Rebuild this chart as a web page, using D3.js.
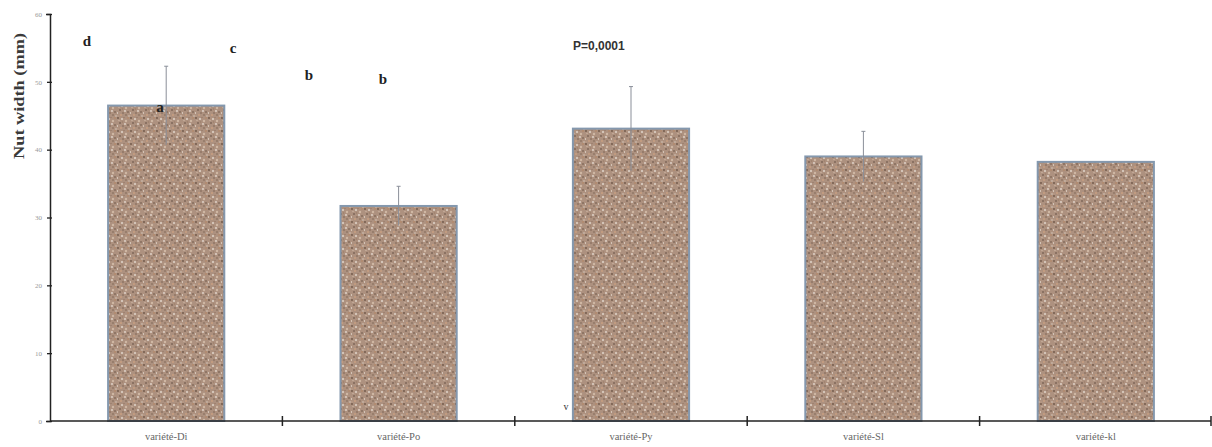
<!DOCTYPE html>
<html>
  <head>
    <meta charset="utf-8">
    <script src="https://cdn.jsdelivr.net/npm/d3@7/dist/d3.min.js"></script>
    <style>
body {
  margin: 0;
  background: #fff;
}
svg {
  display: block;
}
.axis path, .axis line {
  stroke: #222;
}
.ylab {
  font-family: "Liberation Serif", serif;
  font-weight: bold;
  font-size: 14px;
  fill: #3a3a3a;
}
.tick-y {
  font-family: "Liberation Serif", serif;
  font-size: 7px;
  fill: #999;
}
.cat {
  font-family: "Liberation Serif", serif;
  font-size: 10.5px;
  fill: #666;
}
.letter {
  font-family: "Liberation Serif", serif;
  font-weight: bold;
  font-size: 15px;
  fill: #222;
}
.pval {
  font-family: "Liberation Sans", Arial, sans-serif;
  font-weight: bold;
  font-size: 12px;
  fill: #333;
}
    </style>
  </head>
  <body>
    <div id="chart"></div>
    <script>
// values
var categories = ["variété-Di", "variété-Po", "variété-Py", "variété-Sl", "variété-kl"];
var means = [46.5, 31.7, 43.1, 39.0, 38.2];
var errors = [5.8, 2.9, 6.2, 3.7, null];
var yTicks = [0, 10, 20, 30, 40, 50, 60];
var groupLetters = ["d", "c", "b", "b", "a"];
var pLabel = "P=0,0001";

var width = 1212, height = 447;

var svg = d3.select("#chart").append("svg")
    .attr("width", width)
    .attr("height", height);

var x = d3.scaleBand()
    .domain(categories)
    .range([50, 1212])
    .paddingInner(0.5)
    .paddingOuter(0.25);

var xEdge = d3.scaleLinear()
    .domain([0, categories.length])
    .range([50, 1212]);

var y = d3.scaleLinear()
    .domain([0, 60])
    .range([421, 14]);

// speckled texture for the bars (fixed tile)
var defs = svg.append("defs");
var pat = defs.append("pattern")
    .attr("id", "speck")
    .attr("patternUnits", "userSpaceOnUse")
    .attr("width", 13)
    .attr("height", 13);
pat.append("rect").attr("width", 13).attr("height", 13).attr("fill", "#ad917f");
var specks = [
  [1, 1, "#6e5648", 0.9], [5, 2, "#ddd0c5", 1.1], [3, 6, "#5f4a3e", 0.8],
  [9, 4, "#cfb7a3", 1.2], [0, 9, "#e0d4c9", 1.0], [7, 0, "#8a7060", 0.8],
  [4, 11, "#c89f80", 1.0], [11, 8, "#5a463a", 0.7], [2, 3.5, "#c7b09d", 0.8],
  [8, 7, "#e3d8ce", 0.9], [11, 1, "#b48a6c", 0.9], [6, 9, "#7a6252", 0.8],
  [12, 12, "#d6c7ba", 0.8], [9, 11, "#8e7564", 0.9], [1, 12, "#bda089", 0.7],
  [5.5, 5, "#9c7e6a", 0.8]
];
pat.selectAll("circle").data(specks).join("circle")
    .attr("cx", function(d) { return d[0]; })
    .attr("cy", function(d) { return d[1]; })
    .attr("r", function(d) { return d[3]; })
    .attr("fill", function(d) { return d[2]; });

// bars
svg.selectAll("rect.bar").data(categories).join("rect")
    .attr("class", "bar")
    .attr("x", function(d) { return x(d); })
    .attr("y", function(d, i) { return y(means[i]); })
    .attr("width", x.bandwidth())
    .attr("height", function(d, i) { return y(0) - y(means[i]); })
    .attr("fill", "url(#speck)")
    .attr("stroke", "#8498ae")
    .attr("stroke-width", 2);

// error bars
var eb = svg.selectAll("g.err").data(categories.filter(function(d, i) { return errors[i] != null; }))
  .join("g").attr("class", "err");
eb.append("line")
    .attr("x1", function(d) { return x(d) + x.bandwidth() / 2; })
    .attr("x2", function(d) { return x(d) + x.bandwidth() / 2; })
    .attr("y1", function(d) { var i = categories.indexOf(d); return y(means[i] - errors[i]); })
    .attr("y2", function(d) { var i = categories.indexOf(d); return y(means[i] + errors[i]); })
    .attr("stroke", "#8a8f99")
    .attr("stroke-width", 1);
eb.append("line")
    .attr("x1", function(d) { return x(d) + x.bandwidth() / 2 - 2; })
    .attr("x2", function(d) { return x(d) + x.bandwidth() / 2 + 2; })
    .attr("y1", function(d) { var i = categories.indexOf(d); return y(means[i] + errors[i]); })
    .attr("y2", function(d) { var i = categories.indexOf(d); return y(means[i] + errors[i]); })
    .attr("stroke", "#8a8f99")
    .attr("stroke-width", 1);

// y axis
var yAxis = svg.append("g")
    .attr("class", "axis")
    .attr("transform", "translate(50,0)")
    .call(d3.axisLeft(y).tickValues(yTicks).tickSize(4).tickFormat(d3.format("d")));
yAxis.select(".domain").attr("stroke-width", 1.5);
yAxis.selectAll(".tick text").attr("class", "tick-y").attr("x", -8);
yAxis.selectAll(".tick line").attr("x1", 2).attr("x2", -3).attr("stroke-width", 1.3);

// x axis line with ticks between the categories
svg.append("line")
    .attr("x1", 50).attr("x2", 1211)
    .attr("y1", y(0)).attr("y2", y(0))
    .attr("stroke", "#222").attr("stroke-width", 1.5);
svg.selectAll("line.xt").data(d3.range(1, categories.length + 1)).join("line")
    .attr("class", "xt")
    .attr("x1", function(d) { return xEdge(d) - (d === categories.length ? 1 : 0); })
    .attr("x2", function(d) { return xEdge(d) - (d === categories.length ? 1 : 0); })
    .attr("y1", y(0) - 5).attr("y2", y(0) + 5)
    .attr("stroke", "#222").attr("stroke-width", 1.5);

svg.selectAll("text.cat").data(categories).join("text")
    .attr("class", "cat")
    .attr("x", function(d) { return x(d) + x.bandwidth() / 2; })
    .attr("y", 440)
    .attr("text-anchor", "middle")
    .text(function(d) { return d; });

// y title
svg.append("text")
    .attr("class", "ylab")
    .attr("transform", "translate(24,96) rotate(-90)")
    .attr("text-anchor", "middle")
    .attr("textLength", 126)
    .attr("lengthAdjust", "spacingAndGlyphs")
    .text("Nut width (mm)");

// group letters, placed as in the original figure
var letterPos = [[87, 46], [233, 53], [309, 80], [383, 84], [160, 112]];
svg.selectAll("text.letter").data(groupLetters).join("text")
    .attr("class", "letter")
    .attr("x", function(d, i) { return letterPos[i][0]; })
    .attr("y", function(d, i) { return letterPos[i][1]; })
    .attr("text-anchor", "middle")
    .text(function(d) { return d; });

svg.append("text")
    .attr("class", "pval")
    .attr("x", 573).attr("y", 50)
    .text(pLabel);

svg.append("text")
    .attr("x", 566).attr("y", 410)
    .attr("font-family", "Liberation Serif, serif")
    .attr("font-size", 10)
    .attr("fill", "#333")
    .attr("text-anchor", "middle")
    .text("v");
    </script>
  </body>
</html>
